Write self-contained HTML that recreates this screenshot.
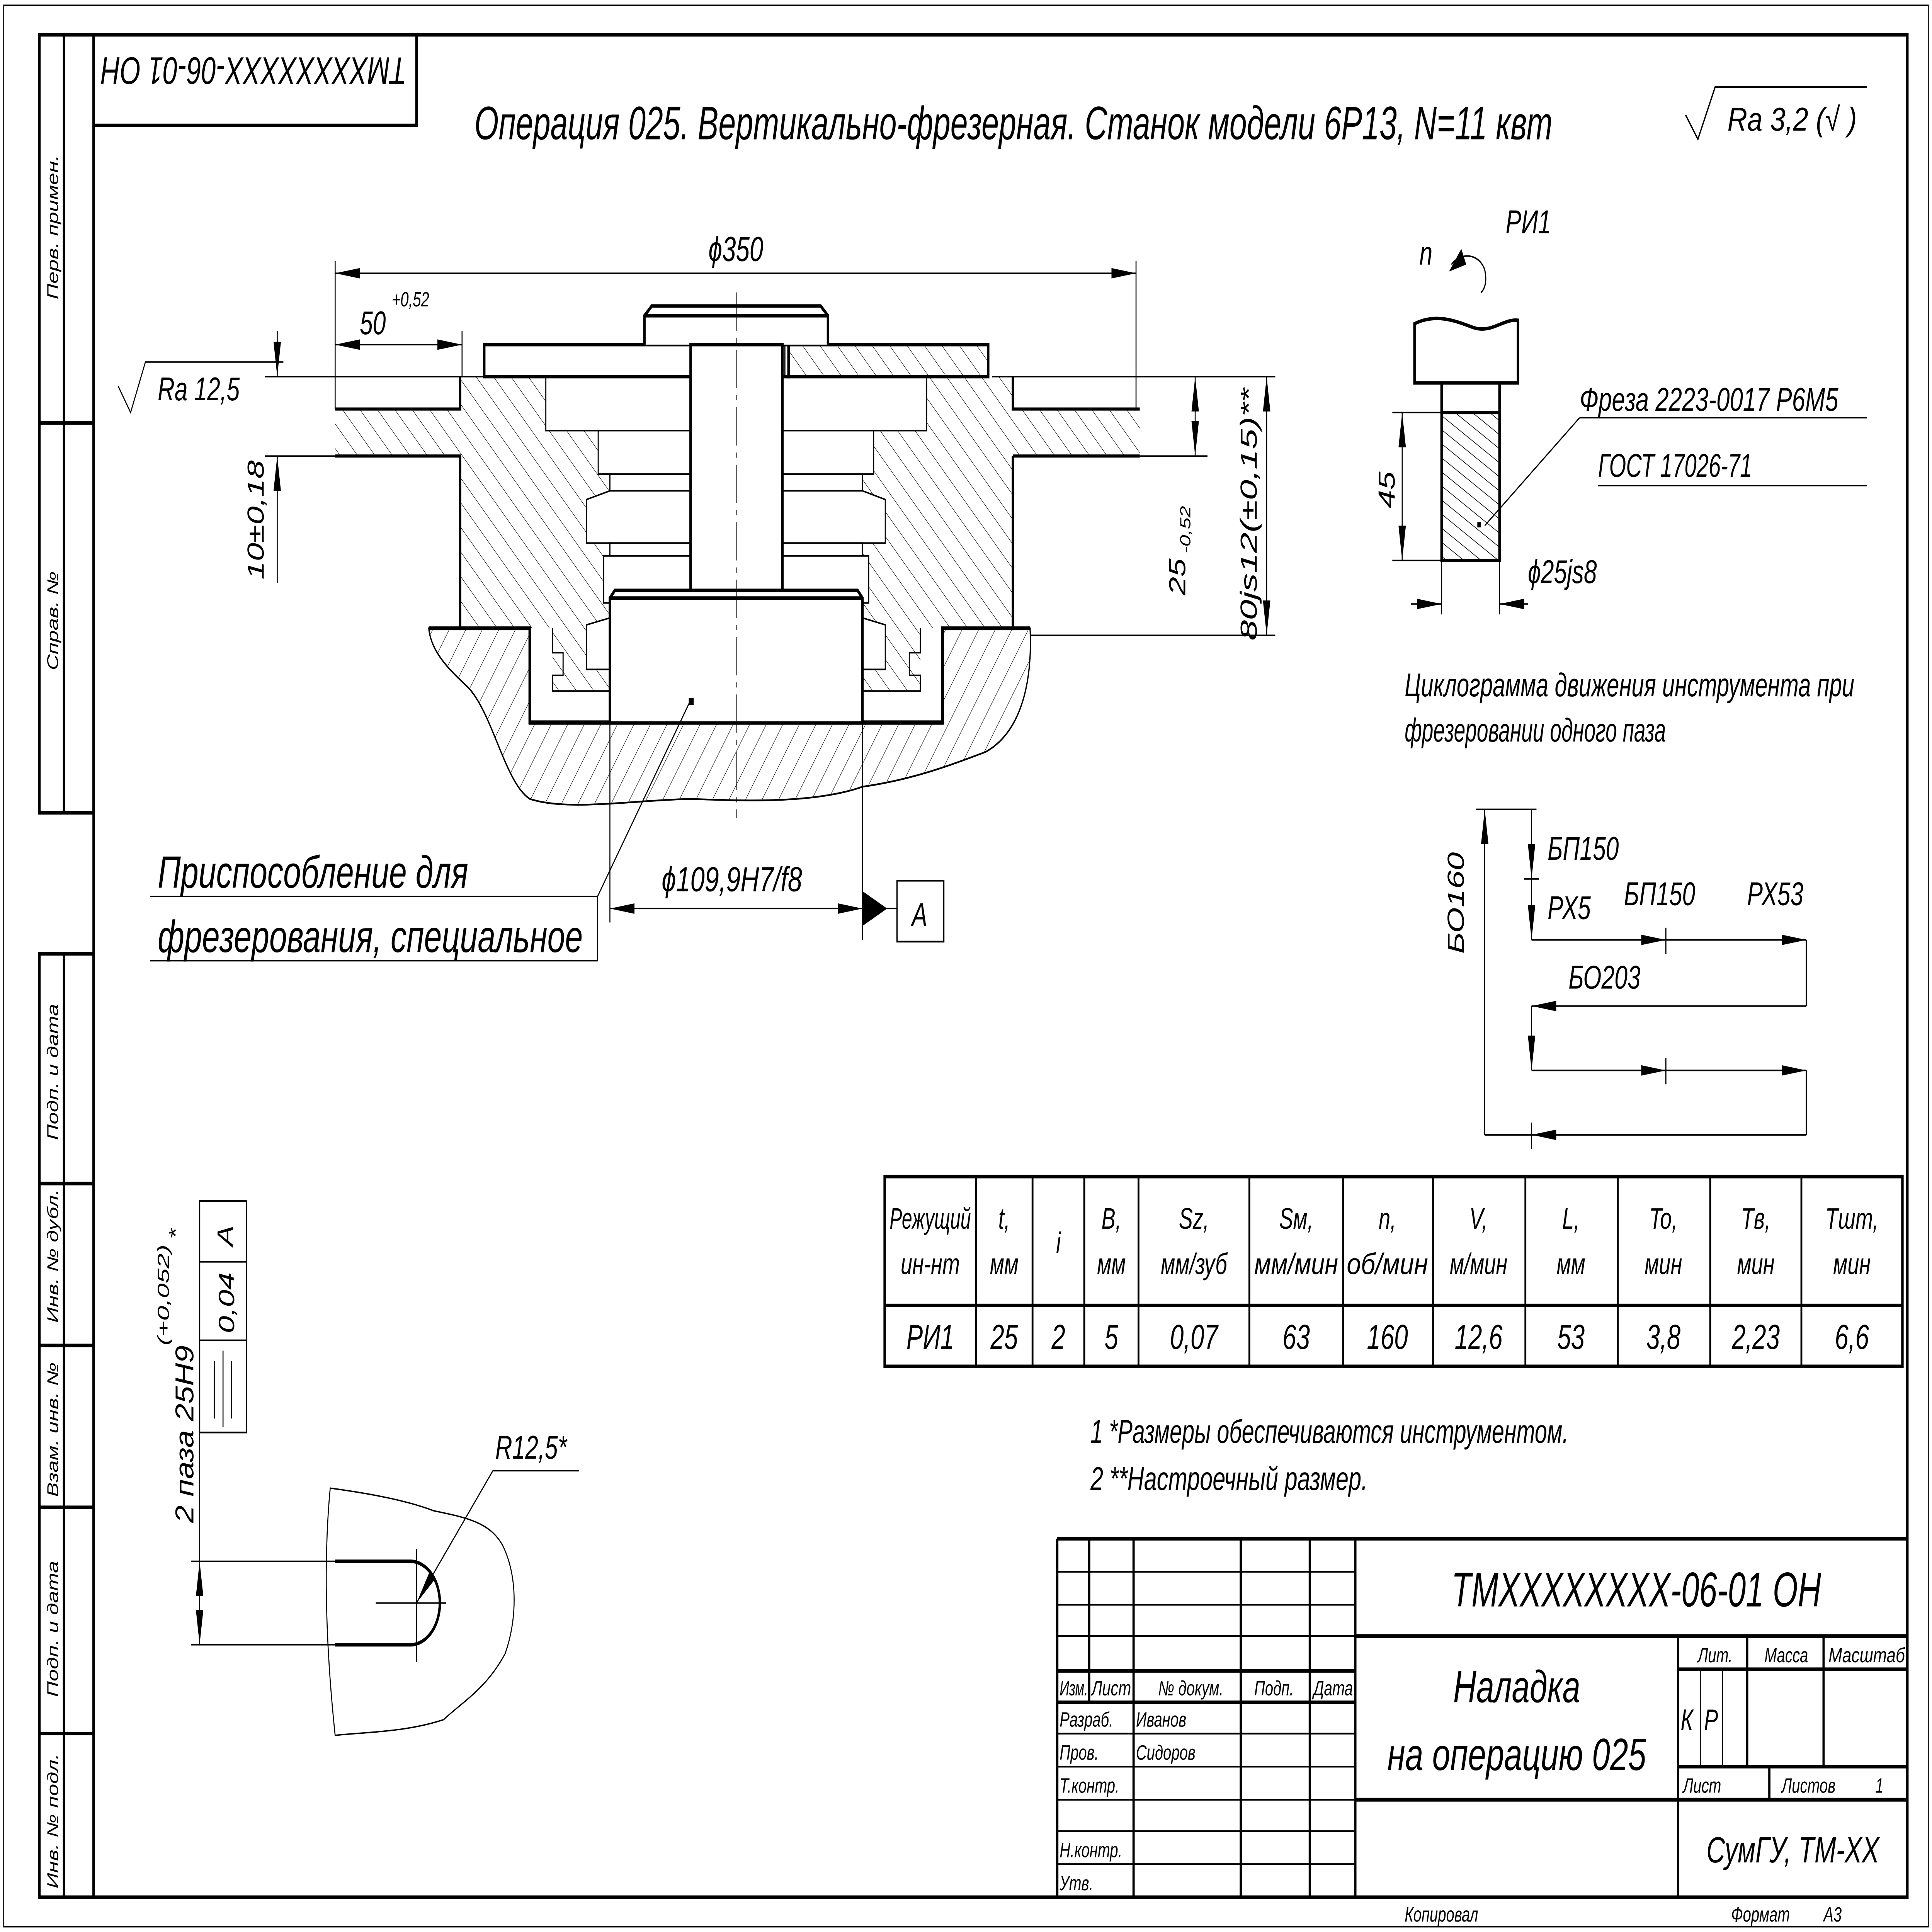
<!DOCTYPE html>
<html><head><meta charset="utf-8"><style>
html,body{margin:0;padding:0;background:#fff;width:100%;height:100%;overflow:hidden}
svg{display:block;position:absolute;left:0;top:0;width:100vw;height:100vh}
text{font-family:"Liberation Sans","DejaVu Sans",sans-serif;font-style:italic;fill:#000}
</style></head><body>
<svg viewBox="0 0 1568 1110" preserveAspectRatio="none" xmlns="http://www.w3.org/2000/svg">
<defs>
<pattern id="h1" patternUnits="userSpaceOnUse" width="10" height="10" patternTransform="rotate(-45)">
<line x1="0" y1="0" x2="0" y2="10" stroke="#000" stroke-width="0.6"/></pattern>
<pattern id="h2" patternUnits="userSpaceOnUse" width="11" height="11" patternTransform="rotate(35)">
<line x1="0" y1="0" x2="0" y2="11" stroke="#000" stroke-width="0.6"/></pattern>
<pattern id="h3" patternUnits="userSpaceOnUse" width="7" height="7" patternTransform="rotate(-60)">
<line x1="0" y1="0" x2="0" y2="7" stroke="#000" stroke-width="0.8"/></pattern>
<marker id="a" viewBox="0 0 20 6" refX="20" refY="3" markerWidth="20" markerHeight="6" markerUnits="userSpaceOnUse" orient="auto-start-reverse">
<path d="M0,0 L20,3 L0,6 z" fill="#000"/></marker>
</defs>
<rect width="1568" height="1110" fill="#fff"/>
<rect x="3" y="3" width="1562" height="1104" fill="none" stroke="#000" stroke-width="0.8"/>
<rect x="76" y="20" width="1472" height="1070" fill="none" stroke="#000" stroke-width="2"/>
<g stroke="#000" stroke-width="2" fill="none">
<rect x="32" y="20" width="44" height="447"/>
<line x1="52" y1="20" x2="52" y2="467"/>
<line x1="32" y1="243" x2="76" y2="243"/>
<rect x="32" y="548" width="44" height="542"/>
<line x1="52" y1="548" x2="52" y2="1090"/>
<line x1="32" y1="680" x2="76" y2="680"/>
<line x1="32" y1="773" x2="76" y2="773"/>
<line x1="32" y1="866" x2="76" y2="866"/>
<line x1="32" y1="996" x2="76" y2="996"/>
</g>
<g font-size="12.5">
<text transform="translate(47,172) rotate(-90)">Перв. примен.</text>
<text transform="translate(47,385) rotate(-90)">Справ. №</text>
<text transform="translate(47,655) rotate(-90)">Подп. и дата</text>
<text transform="translate(47,760) rotate(-90)">Инв. № дубл.</text>
<text transform="translate(47,860) rotate(-90)">Взам. инв. №</text>
<text transform="translate(47,975) rotate(-90)">Подп. и дата</text>
<text transform="translate(47,1085) rotate(-90)">Инв. № подл.</text>
</g>
<path d="M76,72 H338 V20" fill="none" stroke="#000" stroke-width="2"/>
<text transform="translate(330,33) rotate(180)" font-size="22" textLength="248" lengthAdjust="spacingAndGlyphs">ТМХХХХХХХХ-06-01 ОН</text>
<text x="385" y="80" font-size="27" textLength="875" lengthAdjust="spacingAndGlyphs">Операция 025. Вертикально-фрезерная. Станок модели 6Р13, N=11 квт</text>
<path d="M1368,66 L1378,80 L1392,50 H1515" fill="none" stroke="#000" stroke-width="1"/>
<text x="1402" y="75" font-size="19" textLength="105" lengthAdjust="spacingAndGlyphs">Ra 3,2 (√ )</text>

<path d="M348,361 H430 V415 H765 V361 H836 C838,390 830,420 800,432 C770,440 740,448 700,452 C660,462 600,460 560,459 C510,460 460,466 430,459 C410,450 400,410 380,395 C365,385 350,375 348,361 z" fill="url(#h2)" stroke="#000" stroke-width="1"/>
<path d="M348,361 H430 V415 H765 V361 H836" fill="none" stroke="#000" stroke-width="2.2"/>
<path d="M272,235 H373.5 V216.4 H822 V235 H925 V262 H822 V361 H747 V397 H700 V361 H495 V397 H448.5 V361 H373.5 V262 H272 z" fill="url(#h1)" stroke="none"/>
<path d="M272,235 H373.5 V216.4 M822,216.4 V235 H925 M272,262 H373.5 V361 M822,262 H925 M822,262 V361" fill="none" stroke="#000" stroke-width="1.8"/>
<path d="M448.5,361 V375 H457 V388 H448.5 V397 H495 M747,361 V375 H738 V388 H747 V397 H700" fill="none" stroke="#000" stroke-width="0.9"/>
<g fill="#fff" stroke="#000" stroke-width="0.9">
<rect x="443" y="216.4" width="117" height="31"/>
<rect x="635" y="216.4" width="117" height="31"/>
<rect x="485.5" y="247.4" width="74.5" height="25"/>
<rect x="635" y="247.4" width="74" height="25"/>
<rect x="495" y="272.5" width="65" height="9.5"/>
<rect x="635" y="272.5" width="65" height="9.5"/>
<path d="M495,282 L476,287 V312 H560 V282 z"/>
<path d="M700,282 L718.5,287 V312 H635 V282 z"/>
<rect x="495" y="312" width="65" height="7.4"/>
<rect x="635" y="312" width="65" height="7.4"/>
<rect x="490" y="319.4" width="70" height="27"/>
<rect x="635" y="319.4" width="70" height="27"/>
<path d="M495,355 L476,359 V384.6 H495 z"/>
<path d="M700,355 L718.5,359 V384.6 H700 z"/>
</g>
<rect x="393" y="198" width="247" height="18.4" fill="#fff" stroke="#000" stroke-width="2"/>
<rect x="640" y="198" width="162" height="18.4" fill="url(#h1)" stroke="#000" stroke-width="2"/>
<line x1="637" y1="198" x2="637" y2="216.4" stroke="#000" stroke-width="0.9"/>
<path d="M523,198 V181.4 L529,175.8 H666 L672,181.4 V198" fill="#fff" stroke="#000" stroke-width="2"/>
<line x1="523" y1="181.4" x2="672" y2="181.4" stroke="#000" stroke-width="2"/>
<rect x="560.5" y="198" width="74.5" height="142" fill="#fff" stroke="#000" stroke-width="2"/>
<path d="M495,415.4 V343.6 L499,339.2 H696 L700,343.6 V415.4" fill="#fff" stroke="#000" stroke-width="2"/>
<line x1="495" y1="343.6" x2="700" y2="343.6" stroke="#000" stroke-width="2"/>
<path d="M430,361 V415.4 H765 V361" fill="none" stroke="#000" stroke-width="2"/>
<line x1="598" y1="168" x2="598" y2="470" stroke="#000" stroke-width="0.7" stroke-dasharray="22,4,3,4"/>
<rect x="559" y="401" width="4" height="4" fill="#000"/>

<g stroke="#000" stroke-width="0.8" fill="none">
<line x1="272" y1="150" x2="272" y2="235"/>
<line x1="922" y1="150" x2="922" y2="235"/>
<line x1="272" y1="157" x2="922" y2="157" marker-start="url(#a)" marker-end="url(#a)"/>
<line x1="272" y1="198" x2="375" y2="198" marker-start="url(#a)" marker-end="url(#a)"/>
<line x1="375" y1="190" x2="375" y2="216"/>
<line x1="215" y1="216.4" x2="393" y2="216.4"/>
<line x1="215" y1="262" x2="272" y2="262"/>
<line x1="225" y1="190" x2="225" y2="216.4" marker-end="url(#a)"/>
<line x1="225" y1="262" x2="225" y2="335" marker-start="url(#a)"/>
<path d="M96,222 L106,237 L118,208 H230"/>
<line x1="805" y1="216.4" x2="1035" y2="216.4"/>
<line x1="925" y1="262" x2="980" y2="262"/>
<line x1="836" y1="365" x2="1035" y2="365"/>
<line x1="970" y1="216.4" x2="970" y2="262" marker-start="url(#a)" marker-end="url(#a)"/>
<line x1="1028" y1="216.4" x2="1028" y2="365" marker-start="url(#a)" marker-end="url(#a)"/>
<line x1="495" y1="415" x2="495" y2="530"/>
<line x1="700" y1="415" x2="700" y2="540"/>
<line x1="495" y1="522" x2="700" y2="522" marker-start="url(#a)" marker-end="url(#a)"/>
<line x1="485" y1="515" x2="560" y2="403"/>
<line x1="122" y1="515" x2="485" y2="515"/>
<line x1="122" y1="552" x2="485" y2="552"/>
<line x1="485" y1="515" x2="485" y2="552"/>
</g>
<path d="M700,512 L720,522 L700,532 z" fill="#000"/>
<line x1="700" y1="522" x2="728" y2="522" stroke="#000" stroke-width="0.8"/>
<rect x="728" y="506" width="38" height="35" fill="none" stroke="#000" stroke-width="1"/>
<text x="740" y="532" font-size="19" font-style="normal">A</text>
<text x="575" y="150" font-size="20">ϕ350</text>
<text x="292" y="192" font-size="19">50</text>
<text x="318" y="176" font-size="12">+0,52</text>
<text x="128" y="230" font-size="19">Ra 12,5</text>
<text transform="translate(214,333) rotate(-90)" font-size="19">10±0,18</text>
<text transform="translate(962,342) rotate(-90)" font-size="19">25</text>
<text transform="translate(966,318) rotate(-90)" font-size="12">-0,52</text>
<text transform="translate(1020,368) rotate(-90)" font-size="19" textLength="145" lengthAdjust="spacingAndGlyphs">80js12(±0,15)**</text>
<text x="537" y="512" font-size="20" textLength="114" lengthAdjust="spacingAndGlyphs">ϕ109,9H7/f8</text>
<text x="128" y="510" font-size="26" textLength="252" lengthAdjust="spacingAndGlyphs">Приспособление для</text>
<text x="128" y="547" font-size="26" textLength="345" lengthAdjust="spacingAndGlyphs">фрезерования, специальное</text>

<path d="M1148,220 V186 C1165,180 1180,184 1195,188 C1210,192 1220,183 1232,184 V220 z" fill="#fff" stroke="#000" stroke-width="2"/>
<rect x="1170" y="220" width="47" height="17" fill="#fff" stroke="#000" stroke-width="2"/>
<rect x="1170" y="237" width="47" height="85" fill="url(#h3)" stroke="#000" stroke-width="2"/>
<rect x="1199" y="300" width="3" height="3" fill="#000"/>
<path d="M1178,152 C1185,145 1200,145 1205,155 C1207,162 1205,166 1202,168" fill="none" stroke="#000" stroke-width="0.9"/>
<path d="M1176,156 L1186,143 L1190,152 z" fill="#000"/>
<text x="1152" y="152" font-size="19">n</text>
<text x="1222" y="134" font-size="19">РИ1</text>
<g stroke="#000" stroke-width="0.8" fill="none">
<line x1="1130" y1="237" x2="1170" y2="237"/>
<line x1="1130" y1="322" x2="1170" y2="322"/>
<line x1="1138" y1="237" x2="1138" y2="322" marker-start="url(#a)" marker-end="url(#a)"/>
<line x1="1170" y1="322" x2="1170" y2="353"/>
<line x1="1217" y1="322" x2="1217" y2="353"/>
<line x1="1145" y1="347" x2="1170" y2="347" marker-end="url(#a)"/>
<line x1="1217" y1="347" x2="1240" y2="347" marker-start="url(#a)"/>
<line x1="1205" y1="302" x2="1282" y2="240"/>
<line x1="1282" y1="240" x2="1515" y2="240"/>
<line x1="1297" y1="279" x2="1515" y2="279"/>
</g>
<text transform="translate(1132,292) rotate(-90)" font-size="19">45</text>
<text x="1240" y="335" font-size="19">ϕ25js8</text>
<text x="1282" y="236" font-size="19" textLength="210" lengthAdjust="spacingAndGlyphs">Фреза 2223-0017 Р6М5</text>
<text x="1297" y="274" font-size="19" textLength="125" lengthAdjust="spacingAndGlyphs">ГОСТ 17026-71</text>

<text x="1140" y="400" font-size="19" textLength="365" lengthAdjust="spacingAndGlyphs">Циклограмма движения инструмента при</text>
<text x="1140" y="426" font-size="19" textLength="212" lengthAdjust="spacingAndGlyphs">фрезеровании одного паза</text>
<g stroke="#000" stroke-width="0.9" fill="none">
<line x1="1198" y1="465" x2="1247" y2="465"/>
<line x1="1205" y1="652" x2="1205" y2="465" marker-end="url(#a)"/>
<line x1="1243" y1="465" x2="1243" y2="505" marker-end="url(#a)"/>
<line x1="1237" y1="505" x2="1249" y2="505"/>
<line x1="1243" y1="505" x2="1243" y2="540" marker-end="url(#a)"/>
<line x1="1243" y1="540" x2="1352" y2="540" marker-end="url(#a)"/>
<line x1="1352" y1="540" x2="1466" y2="540" marker-end="url(#a)"/>
<line x1="1352" y1="533" x2="1352" y2="548"/>
<polyline points="1466,540 1466,578"/>
<line x1="1466" y1="578" x2="1243" y2="578" marker-end="url(#a)"/>
<line x1="1243" y1="578" x2="1243" y2="615" marker-end="url(#a)"/>
<line x1="1243" y1="615" x2="1352" y2="615" marker-end="url(#a)"/>
<line x1="1352" y1="615" x2="1466" y2="615" marker-end="url(#a)"/>
<line x1="1352" y1="608" x2="1352" y2="623"/>
<polyline points="1466,615 1466,652"/>
<line x1="1466" y1="652" x2="1243" y2="652" marker-end="url(#a)"/>
<line x1="1243" y1="652" x2="1205" y2="652"/>
<line x1="1243" y1="645" x2="1243" y2="660"/>
</g>
<text x="1256" y="494" font-size="19">БП150</text>
<text x="1256" y="528" font-size="19">РХ5</text>
<text x="1318" y="520" font-size="19">БП150</text>
<text x="1418" y="520" font-size="19">РХ53</text>
<text x="1273" y="568" font-size="19">БО203</text>
<text transform="translate(1188,548) rotate(-90)" font-size="19">БО160</text>

<g stroke="#000" fill="none">
<rect x="718" y="676" width="826" height="109" stroke-width="2"/>
<line x1="718" y1="750" x2="1544" y2="750" stroke-width="2"/>
<g stroke-width="1.5">
<line x1="792" y1="676" x2="792" y2="785"/><line x1="838" y1="676" x2="838" y2="785"/>
<line x1="880" y1="676" x2="880" y2="785"/><line x1="924" y1="676" x2="924" y2="785"/>
<line x1="1014" y1="676" x2="1014" y2="785"/><line x1="1090" y1="676" x2="1090" y2="785"/>
<line x1="1163" y1="676" x2="1163" y2="785"/><line x1="1238" y1="676" x2="1238" y2="785"/>
<line x1="1313" y1="676" x2="1313" y2="785"/><line x1="1388" y1="676" x2="1388" y2="785"/>
<line x1="1462" y1="676" x2="1462" y2="785"/>
</g></g>
<g font-size="17" text-anchor="middle">
<text x="755" y="706" textLength="66" lengthAdjust="spacingAndGlyphs">Режущий</text><text x="755" y="732">ин-нт</text>
<text x="815" y="706">t,</text><text x="815" y="732">мм</text>
<text x="859" y="720">i</text>
<text x="902" y="706">B,</text><text x="902" y="732">мм</text>
<text x="969" y="706">Sz,</text><text x="969" y="732">мм/зуб</text>
<text x="1052" y="706">Sм,</text><text x="1052" y="732" textLength="68" lengthAdjust="spacingAndGlyphs">мм/мин</text>
<text x="1126" y="706">n,</text><text x="1126" y="732" textLength="66" lengthAdjust="spacingAndGlyphs">об/мин</text>
<text x="1200" y="706">V,</text><text x="1200" y="732">м/мин</text>
<text x="1275" y="706">L,</text><text x="1275" y="732">мм</text>
<text x="1350" y="706">To,</text><text x="1350" y="732">мин</text>
<text x="1425" y="706">Tв,</text><text x="1425" y="732">мин</text>
<text x="1503" y="706">Tшт,</text><text x="1503" y="732">мин</text>
<g font-size="20">
<text x="755" y="775">РИ1</text><text x="815" y="775">25</text><text x="859" y="775">2</text>
<text x="902" y="775">5</text><text x="969" y="775">0,07</text><text x="1052" y="775">63</text>
<text x="1126" y="775">160</text><text x="1200" y="775">12,6</text><text x="1275" y="775">53</text>
<text x="1350" y="775">3,8</text><text x="1425" y="775">2,23</text><text x="1503" y="775">6,6</text>
</g></g>

<text x="885" y="829" font-size="19" textLength="388" lengthAdjust="spacingAndGlyphs">1 *Размеры обеспечиваются инструментом.</text>
<text x="885" y="856" font-size="19" textLength="225" lengthAdjust="spacingAndGlyphs">2 **Настроечный размер.</text>

<path d="M268,855 C300,858 330,862 352,868 C380,872 398,875 408,888 C420,905 420,930 410,950 C395,970 375,978 360,988 C330,995 300,995 272,997 C265,950 262,900 268,855 z" fill="#fff" stroke="#000" stroke-width="0.8"/>
<path d="M272,897 H333 A24,24 0 0 1 333,945 H272" fill="none" stroke="#000" stroke-width="2"/>
<g stroke="#000" stroke-width="0.8" fill="none">
<line x1="155" y1="897" x2="272" y2="897"/>
<line x1="155" y1="945" x2="272" y2="945"/>
<line x1="162" y1="823" x2="162" y2="945"/>
<line x1="162" y1="897" x2="162" y2="945" marker-start="url(#a)" marker-end="url(#a)"/>
<line x1="338" y1="890" x2="338" y2="955"/>
<line x1="305" y1="921" x2="362" y2="921"/>
<line x1="338" y1="921" x2="400" y2="845" marker-start="url(#a)"/>
<line x1="400" y1="845" x2="470" y2="845"/>
<rect x="162" y="690" width="38" height="133" stroke-width="1"/>
<line x1="162" y1="725" x2="200" y2="725"/>
<line x1="162" y1="770" x2="200" y2="770"/>
<line x1="174" y1="782" x2="174" y2="815"/>
<line x1="181" y1="776" x2="181" y2="820"/>
<line x1="188" y1="782" x2="188" y2="815"/>
</g>
<text transform="translate(189,716) rotate(-90)" font-size="18" font-style="normal">A</text>
<text transform="translate(190,766) rotate(-90)" font-size="18" font-style="normal">0,04</text>
<text transform="translate(157,875) rotate(-90)" font-size="21" textLength="102" lengthAdjust="spacingAndGlyphs">2 паза 25H9</text>
<text transform="translate(137,773) rotate(-90)" font-size="13" textLength="58" lengthAdjust="spacingAndGlyphs">(+0,052)</text>
<text transform="translate(148,712) rotate(-90)" font-size="16">*</text>
<text x="402" y="838" font-size="19">R12,5*</text>

<g stroke="#000" fill="none">
<line x1="858" y1="884" x2="1548" y2="884" stroke-width="2.2"/>
<line x1="858" y1="884" x2="858" y2="1090" stroke-width="2"/>
<g stroke-width="1.8">
<line x1="884" y1="884" x2="884" y2="978"/>
<line x1="920" y1="884" x2="920" y2="1090"/>
<line x1="1007" y1="884" x2="1007" y2="1090"/>
<line x1="1063" y1="884" x2="1063" y2="1090"/>
<line x1="1100" y1="884" x2="1100" y2="1090"/>
</g>
<g stroke-width="1">
<line x1="858" y1="903" x2="1100" y2="903"/><line x1="858" y1="922" x2="1100" y2="922"/>
<line x1="858" y1="940" x2="1100" y2="940"/>
<line x1="858" y1="996" x2="1100" y2="996"/><line x1="858" y1="1015" x2="1100" y2="1015"/>
<line x1="858" y1="1034" x2="1100" y2="1034"/><line x1="858" y1="1052" x2="1100" y2="1052"/>
<line x1="858" y1="1071" x2="1100" y2="1071"/>
</g>
<line x1="858" y1="960" x2="1100" y2="960" stroke-width="2"/>
<line x1="858" y1="978" x2="1100" y2="978" stroke-width="2"/>
<line x1="1100" y1="940" x2="1548" y2="940" stroke-width="2.2"/>
<line x1="1100" y1="1034" x2="1548" y2="1034" stroke-width="2.2"/>
<line x1="1362" y1="940" x2="1362" y2="1090" stroke-width="1.8"/>
<line x1="1362" y1="959" x2="1548" y2="959" stroke-width="2"/>
<line x1="1362" y1="1015" x2="1548" y2="1015" stroke-width="2"/>
<line x1="1418" y1="940" x2="1418" y2="1015" stroke-width="1.8"/>
<line x1="1480" y1="940" x2="1480" y2="1015" stroke-width="1.8"/>
<line x1="1436" y1="1015" x2="1436" y2="1034" stroke-width="1.8"/>
<line x1="1380" y1="959" x2="1380" y2="1015" stroke-width="0.8"/>
<line x1="1398" y1="959" x2="1398" y2="1015" stroke-width="0.8"/>
</g>
<text x="1178" y="923" font-size="28" textLength="300" lengthAdjust="spacingAndGlyphs">ТМХХХХХХХХ-06-01 ОН</text>
<text x="1231" y="978" font-size="26" text-anchor="middle">Наладка</text>
<text x="1231" y="1017" font-size="26" text-anchor="middle" textLength="210" lengthAdjust="spacingAndGlyphs">на операцию 025</text>
<g font-size="12">
<text x="860" y="974" textLength="23" lengthAdjust="spacingAndGlyphs">Изм.</text><text x="886" y="974" textLength="32" lengthAdjust="spacingAndGlyphs">Лист</text><text x="940" y="974">№ докум.</text>
<text x="1018" y="974">Подп.</text><text x="1066" y="974" textLength="32" lengthAdjust="spacingAndGlyphs">Дата</text>
<text x="860" y="992">Разраб.</text><text x="922" y="992">Иванов</text>
<text x="860" y="1011">Пров.</text><text x="922" y="1011">Сидоров</text>
<text x="860" y="1030">Т.контр.</text>
<text x="860" y="1067">Н.контр.</text>
<text x="860" y="1086">Утв.</text>
<text x="1378" y="955">Лит.</text><text x="1432" y="955">Масса</text><text x="1484" y="955" textLength="62" lengthAdjust="spacingAndGlyphs">Масштаб</text>
<text x="1366" y="1030">Лист</text><text x="1446" y="1030">Листов</text><text x="1522" y="1030">1</text>
<text x="1140" y="1104">Копировал</text>
<text x="1405" y="1104">Формат</text><text x="1480" y="1104">А3</text>
</g>
<text x="1364" y="994" font-size="17">К</text>
<text x="1383" y="994" font-size="17">Р</text>
<text x="1455" y="1070" font-size="21" text-anchor="middle">СумГУ,  ТМ-ХХ</text>
</svg>
</body></html>
